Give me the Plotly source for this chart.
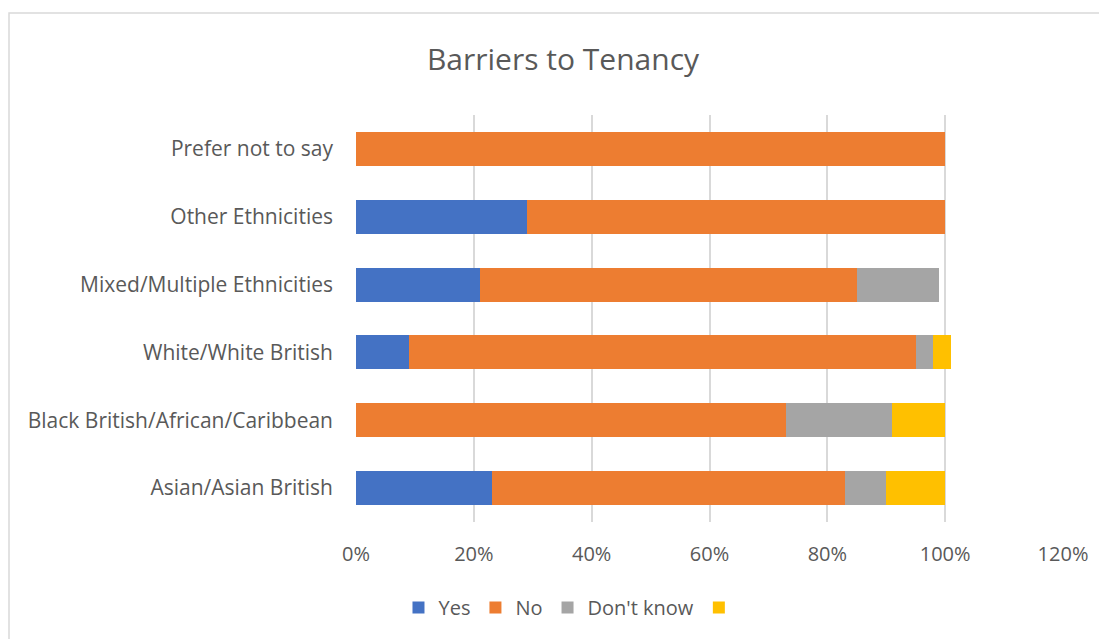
import plotly.graph_objects as go

categories = [
    "Asian/Asian British",
    "Black British/African/Caribbean",
    "White/White British",
    "Mixed/Multiple Ethnicities",
    "Other Ethnicities",
    "Prefer not to say",
]
yes = [0.23, 0.00, 0.09, 0.21, 0.29, 0.00]
no = [0.60, 0.73, 0.86, 0.64, 0.71, 1.00]
dont_know = [0.07, 0.18, 0.03, 0.14, 0.00, 0.00]
blank = [0.10, 0.09, 0.03, 0.00, 0.00, 0.00]

series = [
    ("Yes", yes, "#4472C4"),
    ("No", no, "#ED7D31"),
    ("Don't know", dont_know, "#A5A5A5"),
    (" ", blank, "#FFC000"),
]

text_color = "#595959"
font_family = "Open Sans, Liberation Sans, sans-serif"

fig = go.Figure()
for name, vals, color in series:
    fig.add_trace(
        go.Bar(
            y=categories,
            x=vals,
            name=name,
            orientation="h",
            marker={"color": color, "line": {"width": 0}},
            width=0.5,
        )
    )

fig.update_layout(
    barmode="stack",
    width=1099,
    height=631,
    paper_bgcolor="white",
    plot_bgcolor="white",
    font={"family": font_family, "size": 20, "color": text_color},
    title={
        "text": "Barriers to Tenancy",
        "xref": "container",
        "x": 0.505,
        "xanchor": "center",
        "yref": "container",
        "y": 0.918,
        "yanchor": "middle",
        "font": {"size": 30, "color": text_color},
    },
    margin={"l": 348, "r": 44, "t": 107, "b": 117},
    showlegend=True,
    legend={
        "orientation": "h",
        "xref": "container",
        "x": 0.515,
        "xanchor": "center",
        "yref": "container",
        "y": 0.05,
        "yanchor": "middle",
        "font": {"size": 20, "color": text_color},
        "itemwidth": 30,
        "traceorder": "normal",
    },
    xaxis={
        "range": [0, 1.2],
        "dtick": 0.2,
        "tickformat": ".0%",
        "showgrid": True,
        "gridcolor": "#D9D9D9",
        "gridwidth": 1.5,
        "zeroline": False,
        "showline": False,
        "ticks": "",
        "ticklabelstandoff": 18,
    },
    yaxis={
        "categoryorder": "array",
        "categoryarray": categories,
        "showgrid": False,
        "zeroline": False,
        "showline": False,
        "ticks": "",
        "ticklabelstandoff": 22,
        "tickfont": {"size": 21},
    },
    shapes=[
        {
            "type": "rect",
            "xref": "paper",
            "yref": "paper",
            "x0": -0.4908,
            "x1": 1.2,
            "y0": -0.4,
            "y1": 1.2506,
            "line": {"color": "#D9D9D9", "width": 1.5},
            "layer": "below",
        }
    ],
)

fig.write_html("out.html")
